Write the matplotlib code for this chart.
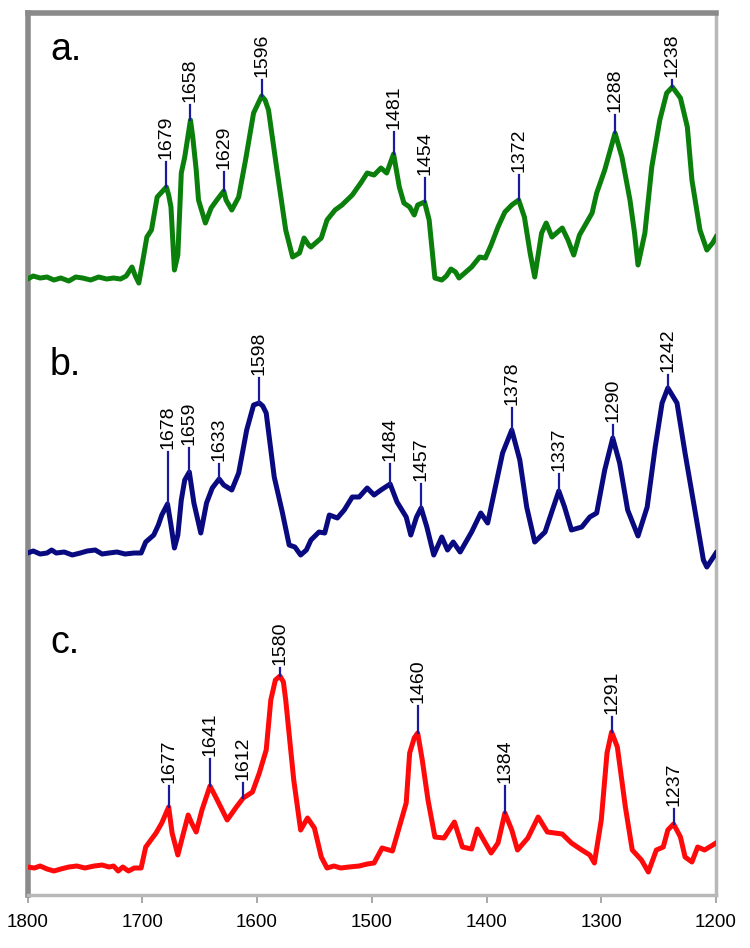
import matplotlib.pyplot as plt
import numpy as np

plt.rcParams['font.family'] = ['Liberation Sans', 'DejaVu Sans']

# spectrum a (green) - wavenumber / intensity (arb. units above its baseline)
wn_a = [1800, 1795, 1789, 1783, 1777, 1771, 1764, 1758, 1752, 1745, 1738, 1731, 1725, 1719, 1714,
        1709, 1706, 1703, 1699, 1696, 1692, 1687, 1683, 1679, 1677, 1675, 1672, 1669, 1666, 1663,
        1658, 1656, 1653, 1651, 1645, 1640, 1635, 1629, 1627, 1622, 1616, 1610, 1603, 1596, 1593,
        1590, 1583, 1575, 1569, 1563, 1559, 1555, 1553, 1544, 1539, 1532, 1526, 1517, 1509, 1504,
        1498, 1492, 1487, 1481, 1476, 1472, 1467, 1463, 1460, 1454, 1450, 1445, 1439, 1435, 1431,
        1427, 1424, 1418, 1413, 1406, 1401, 1396, 1390, 1384, 1378, 1372, 1367, 1362, 1358, 1352,
        1348, 1343, 1334, 1329, 1324, 1319, 1308, 1304, 1297, 1288, 1282, 1275, 1271, 1268, 1262,
        1256, 1249, 1243, 1238, 1231, 1225, 1221, 1214, 1208, 1203, 1200]
int_a = [-1, 2, 0, 1, -2, 0, -3, 1, 0, -2, 1, -1, 0, -1, 2,
         11, 2, -5, 21, 41, 48, 81, 86, 91, 83, 71, 8, 23, 105, 121,
         158, 141, 108, 78, 55, 70, 78, 87, 78, 68, 81, 118, 165, 182, 178,
         168, 111, 48, 21, 25, 40, 33, 31, 40, 58, 68, 73, 83, 96, 105,
         103, 110, 105, 124, 91, 75, 71, 63, 73, 76, 58, 0, -2, 2, 9,
         6, 0, 6, 11, 21, 20, 33, 51, 66, 73, 78, 61, 25, 1, 45,
         55, 41, 50, 38, 23, 43, 65, 85, 108, 145, 121, 78, 45, 13, 45,
         111, 158, 185, 191, 180, 151, 98, 48, 28, 35, 41]

# spectrum b (navy)
wn_b = [1800, 1795, 1789, 1783, 1779, 1775, 1768, 1761, 1754, 1748, 1741, 1735, 1729, 1722, 1715,
        1707, 1701, 1697, 1690, 1686, 1683, 1678, 1675, 1672, 1669, 1666, 1663, 1659, 1655, 1649,
        1644, 1639, 1633, 1629, 1622, 1616, 1609, 1603, 1598, 1595, 1592, 1585, 1578, 1572, 1567,
        1562, 1557, 1553, 1546, 1541, 1537, 1530, 1524, 1517, 1511, 1504, 1498, 1492, 1484, 1478,
        1470, 1466, 1461, 1457, 1452, 1446, 1439, 1434, 1429, 1423, 1413, 1405, 1399, 1391, 1386,
        1378, 1371, 1365, 1358, 1349, 1342, 1337, 1332, 1326, 1317, 1310, 1304, 1297, 1290, 1284,
        1277, 1268, 1260, 1253, 1247, 1242, 1234, 1227, 1218, 1211, 1208, 1200]
int_b = [0, 2, -1, 0, 3, 0, 1, -2, 0, 2, 3, -1, 0, 1, -1,
         0, 0, 11, 18, 28, 38, 49, 28, 5, 18, 53, 73, 81, 50, 20,
         50, 65, 74, 68, 63, 80, 123, 148, 150, 147, 140, 76, 41, 8, 6,
         -2, 3, 13, 21, 20, 38, 35, 43, 56, 56, 65, 58, 63, 69, 51,
         36, 18, 36, 45, 26, -2, 16, 3, 11, 1, 21, 40, 30, 73, 100,
         123, 93, 46, 11, 21, 45, 62, 46, 23, 26, 36, 40, 83, 115, 90,
         43, 17, 46, 106, 150, 165, 150, 100, 40, -7, -14, 0]

# spectrum c (red)
wn_c = [1800, 1794, 1789, 1783, 1777, 1771, 1764, 1757, 1750, 1742, 1735, 1729, 1725, 1721, 1717,
        1712, 1707, 1701, 1697, 1688, 1683, 1677, 1674, 1669, 1665, 1660, 1657, 1653, 1648, 1641,
        1636, 1626, 1618, 1612, 1604, 1598, 1592, 1588, 1584, 1580, 1577, 1575, 1568, 1562, 1556,
        1550, 1544, 1539, 1533, 1527, 1520, 1511, 1504, 1498, 1491, 1482, 1476, 1470, 1467, 1463,
        1460, 1456, 1451, 1445, 1437, 1428, 1421, 1413, 1408, 1400, 1396, 1390, 1384, 1378, 1373,
        1364, 1355, 1347, 1334, 1326, 1317, 1310, 1306, 1300, 1295, 1291, 1286, 1279, 1273, 1265,
        1259, 1252, 1246, 1242, 1237, 1231, 1227, 1221, 1216, 1210, 1200]
int_c = [1, 0, 2, -1, -3, -1, 1, 2, 0, 2, 3, 1, 2, -3, 1,
         -3, 0, 0, 21, 35, 45, 61, 35, 13, 31, 53, 45, 36, 58, 82,
         71, 48, 61, 70, 76, 95, 118, 168, 188, 192, 186, 168, 88, 38, 50,
         40, 11, 0, 2, 0, 1, 2, 4, 5, 20, 17, 41, 65, 115, 130,
         135, 108, 68, 31, 30, 46, 21, 19, 39, 23, 15, 25, 55, 38, 18,
         30, 51, 36, 34, 25, 18, 13, 5, 48, 115, 136, 121, 61, 18, 8,
         -4, 18, 21, 38, 44, 31, 11, 6, 21, 18, 25]

# labelled peaks and length of their leader lines
peaks_a = [1679, 1658, 1629, 1596, 1481, 1454, 1372, 1288, 1238]
lead_a = [25, 15, 19, 16, 22, 24, 25, 18, 7]
peaks_b = [1678, 1659, 1633, 1598, 1484, 1457, 1378, 1337, 1290, 1242]
lead_b = [52, 24, 15, 25, 20, 24, 22, 17, 13, 13]
peaks_c = [1677, 1641, 1612, 1580, 1460, 1384, 1291, 1237]
lead_c = [21, 27, 15, 8, 27, 27, 15, 15]

xticks = [1800, 1700, 1600, 1500, 1400, 1300, 1200]

fig = plt.figure(figsize=(7.5, 9.48), dpi=100)
ax = fig.add_axes([0.0367, 0.0559, 0.918, 0.9309])

spectra = [
    (wn_a, int_a, peaks_a, lead_a, 670, '#0b7f0b', 'a.', 888),
    (wn_b, int_b, peaks_b, lead_b, 395, '#0a0a80', 'b.', 573),
    (wn_c, int_c, peaks_c, lead_c, 80, '#ff0a0a', 'c.', 295),
]

for wn, inten, peaks, lead, off, col, lab, ylab in spectra:
    wn = np.array(wn)
    y = np.array(inten) + off
    ax.plot(wn, y, color=col, lw=3.6, solid_joinstyle='round', zorder=3)
    for p, L in zip(peaks, lead):
        yp = np.interp(p, wn[::-1], y[::-1])
        ax.plot([p, p], [yp, yp + L], color='#1a1a9c', lw=1.6, zorder=4)
        ax.text(p, yp + L + 3, str(p), rotation=90, ha='center', va='bottom',
                fontsize=14, color='black')
    ax.text(1780.5, ylab, lab, fontsize=27, ha='left', va='baseline')

ax.set_xlim(1800, 1200)
ax.set_ylim(53, 935.5)
ax.set_xticks(xticks)
ax.set_yticks([])
ax.tick_params(axis='x', direction='out', length=6, width=1.2, color='#999999',
               labelsize=13.5, pad=8)

ax.spines['left'].set_color('#8a8a8a')
ax.spines['left'].set_linewidth(4)
ax.spines['top'].set_color('#8a8a8a')
ax.spines['top'].set_linewidth(4)
ax.spines['right'].set_color('#b8b8b8')
ax.spines['right'].set_linewidth(2.5)
ax.spines['bottom'].set_color('#b8b8b8')
ax.spines['bottom'].set_linewidth(2.5)

fig.savefig('out.png', dpi=100)
